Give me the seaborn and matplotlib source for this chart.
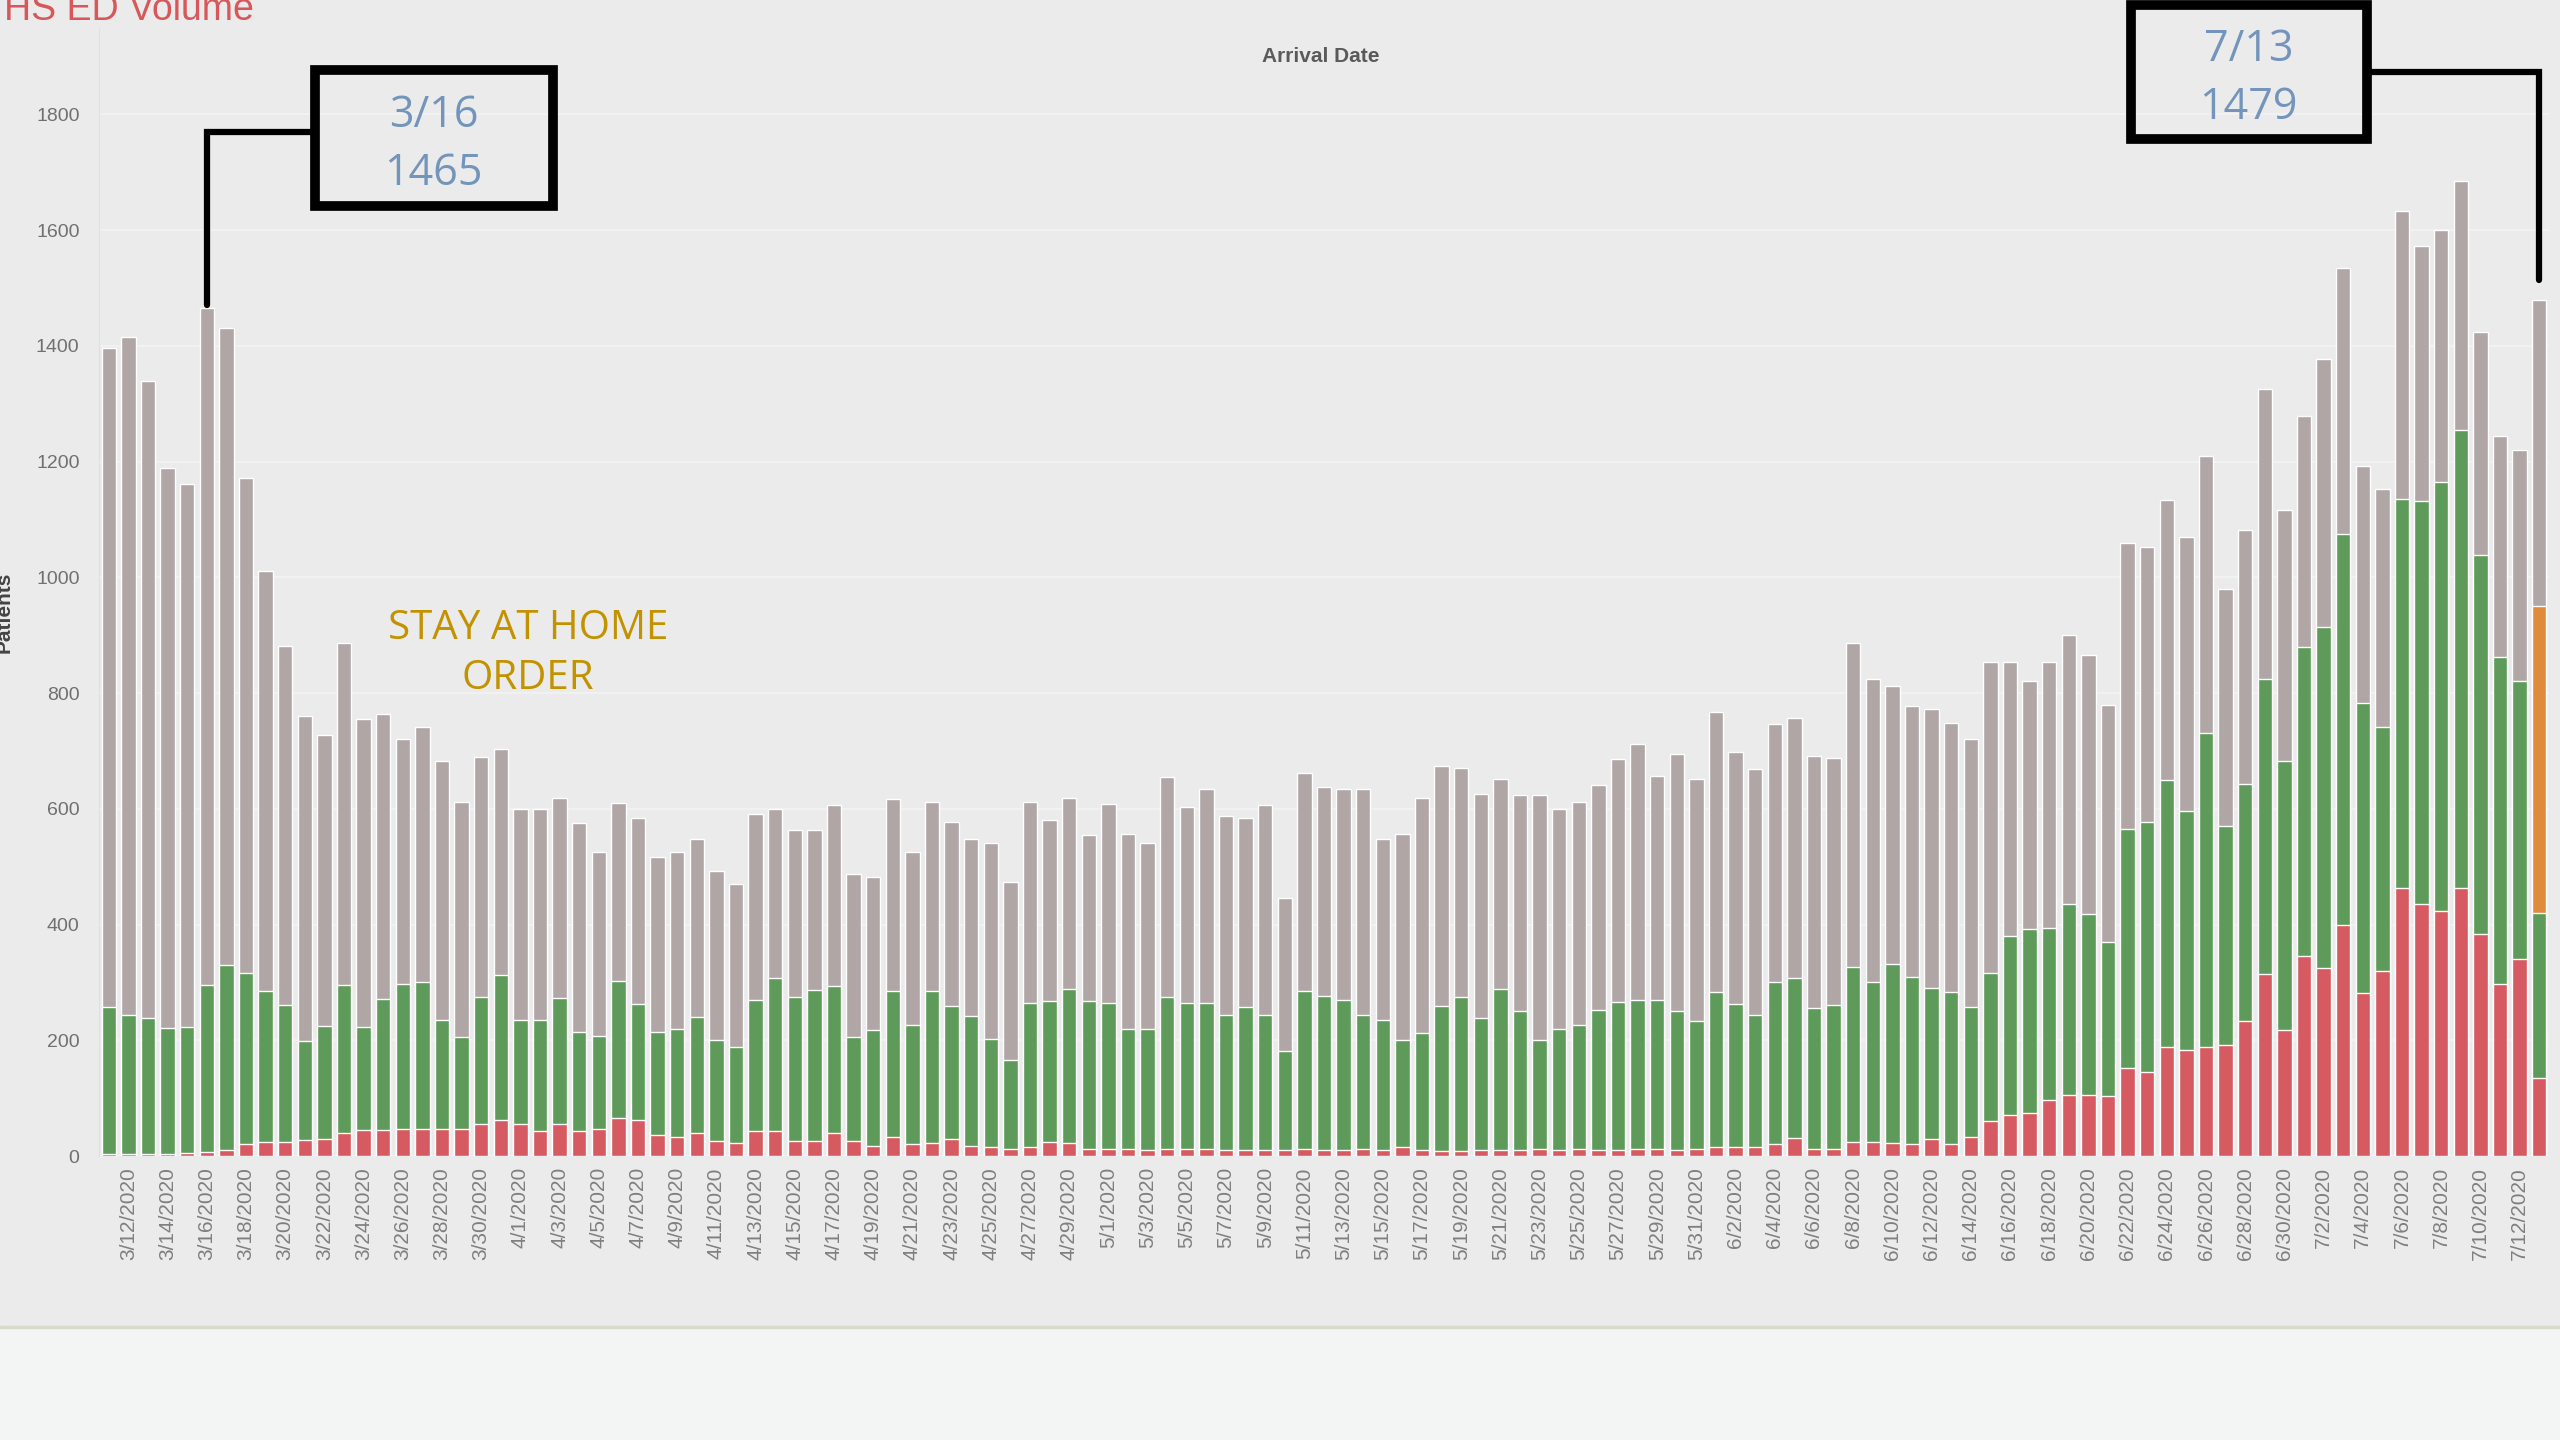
import pandas as pd
import matplotlib.pyplot as plt
import seaborn as sns
from matplotlib.patches import Rectangle

# style
sns.set_style("white")
plt.rcParams['font.family'] = ['Liberation Sans', 'DejaVu Sans']

# data (daily arrivals, 3/11/2020 - 7/13/2020)
days = pd.date_range("2020-03-11", "2020-07-13", freq="D")
dates = [f"{d.month}/{d.day}/{d.year}" for d in days]

# total height of each bar
total_volume = [
    1397, 1415, 1340, 1189, 1162, 1465, 1430, 1172, 1011, 881,
    760, 727, 887, 755, 763, 720, 742, 682, 611, 690,
    703, 600, 600, 618, 576, 525, 610, 584, 516, 525,
    548, 492, 470, 591, 599, 564, 564, 607, 488, 482,
    617, 526, 612, 578, 548, 541, 474, 612, 580, 618,
    555, 609, 557, 541, 655, 603, 634, 588, 584, 607,
    445, 662, 637, 635, 634, 548, 556, 618, 674, 671,
    626, 651, 624, 624, 600, 612, 641, 686, 712, 657,
    695, 651, 767, 698, 669, 747, 757, 692, 687, 886,
    825, 813, 778, 773, 749, 721, 854, 853, 820, 853,
    900, 865, 780, 1059, 1053, 1133, 1070, 1209, 980, 1082,
    1325, 1117, 1279, 1378, 1535, 1192, 1152, 1633, 1573, 1600,
    1685, 1424, 1245, 1220, 1479,
]

# top of the green segment (red + green)
green_level = [
    258, 243, 238, 221, 223, 295, 330, 316, 286, 261,
    199, 225, 295, 223, 271, 298, 301, 235, 206, 275,
    313, 235, 235, 273, 214, 208, 303, 263, 214, 220,
    241, 200, 189, 270, 307, 274, 287, 293, 206, 217,
    286, 227, 286, 259, 242, 202, 166, 265, 268, 289,
    268, 264, 219, 220, 274, 264, 264, 243, 257, 243,
    182, 286, 276, 270, 243, 235, 201, 212, 260, 274,
    239, 289, 250, 201, 220, 227, 253, 266, 270, 270,
    250, 234, 283, 262, 243, 300, 307, 255, 261, 326,
    300, 331, 309, 291, 283, 258, 317, 381, 392, 394,
    435, 418, 369, 565, 577, 649, 597, 731, 571, 642,
    825, 682, 879, 914, 1074, 782, 742, 1136, 1131, 1165,
    1254, 1039, 862, 820, 420,
]

# red segment
red_level = [
    3, 3, 3, 3, 5, 7, 10, 20, 25, 25,
    27, 30, 40, 45, 45, 47, 47, 47, 47, 55,
    62, 56, 43, 56, 43, 46, 66, 62, 36, 33,
    39, 26, 23, 43, 43, 26, 26, 39, 26, 18,
    33, 20, 22, 30, 18, 15, 12, 15, 25, 22,
    12, 12, 12, 10, 12, 12, 12, 10, 10, 10,
    10, 12, 10, 10, 12, 10, 16, 10, 8, 8,
    10, 10, 10, 12, 10, 12, 10, 10, 12, 12,
    10, 12, 16, 16, 16, 21, 32, 12, 12, 25,
    25, 23, 21, 30, 21, 33, 60, 71, 75, 96,
    105, 105, 104, 152, 145, 188, 183, 188, 192, 234,
    314, 217, 345, 325, 400, 282, 320, 463, 436, 423,
    463, 383, 297, 340, 134,
]

# the last (partial) day has an orange segment on top of green
orange_dates = ["7/13/2020"]
orange_level = [950]

# callouts
callout_dates = ["3/16/2020", "7/13/2020"]
callout_texts = ["3/16\n1465", "7/13\n1479"]

GRAY = "#b0a6a6"
GREEN = "#5e9a59"
RED = "#d65a61"
ORANGE = "#e08a3e"
BG = "#ebebeb"

fig = plt.figure(figsize=(25.6, 14.4), dpi=100, facecolor=BG)

# lower blank band of the dashboard
fig.add_artist(Rectangle((0, 0), 1, 1 - 1327 / 1440, transform=fig.transFigure,
                         facecolor="#f3f4f4", edgecolor="none", zorder=0))
fig.add_artist(plt.Line2D([0, 1], [1 - 1327 / 1440] * 2, transform=fig.transFigure,
                          color="#d6dcc9", lw=2.5))

ax = fig.add_axes([99 / 2560, 0.1972, 2450 / 2560, 0.7837])
ax.set_facecolor(BG)

sns.barplot(x=dates, y=total_volume, order=dates, color=GRAY, width=0.74,
            saturation=1, errorbar=None, ax=ax, zorder=2)
sns.barplot(x=orange_dates, y=orange_level, order=dates, color=ORANGE, width=0.74,
            saturation=1, errorbar=None, ax=ax, zorder=3)
sns.barplot(x=dates, y=green_level, order=dates, color=GREEN, width=0.74,
            saturation=1, errorbar=None, ax=ax, zorder=4)
sns.barplot(x=dates, y=red_level, order=dates, color=RED, width=0.74,
            saturation=1, errorbar=None, ax=ax, zorder=5)

ax.set_xlim(-0.5, len(dates) - 0.5)
ax.set_ylim(0, 1950)
ax.set_yticks(range(0, 1801, 200))
ax.set_yticklabels([str(v) for v in range(0, 1801, 200)], fontsize=14, color="#707070")
ax.set_xticks(range(len(dates)))
ax.set_xticklabels([d if i % 2 == 1 else "" for i, d in enumerate(dates)],
                   rotation=90, fontsize=15, color="#7f7f7f")
ax.tick_params(axis="both", length=0)
ax.tick_params(axis="x", pad=8)
ax.tick_params(axis="y", pad=14)
ax.yaxis.grid(True, color="#f3f3f3", lw=1.2, zorder=0)
ax.set_axisbelow(True)
ax.set_xlabel("")
ax.set_ylabel("")
for side in ["top", "right", "bottom"]:
    ax.spines[side].set_visible(False)
ax.spines["left"].set_color("#e0e0e0")

# texts (title and axis title sit at the edge, as on the dashboard)
fig.text(0.0016, 1 - 20 / 1440, "HS ED Volume", fontsize=27, color="#d8575a",
         va="baseline", ha="left")
fig.text(1321 / 2560, 1 - 57 / 1440, "Arrival Date", fontsize=15, fontweight="bold",
         color="#5a5a5a", ha="center", va="center")
fig.text(0.0015, 1 - 612 / 1440, "Patients", fontsize=15, fontweight="bold",
         color="#444444", rotation=90, ha="center", va="center")

ax.text(21.4, 868, "STAY AT HOME\nORDER", fontsize=29, color="#c39200",
        ha="center", va="center", family=["Open Sans", "DejaVu Sans"], linespacing=1.3)

# callout boxes with elbow connectors
boxes = [
    # box x0, x1, y0, y1, elbow height
    (10.5, 22.65, 1642, 1877, 1770),
    (103.15, 115.2, 1757, 1989, 1873),
]
for date, txt, (x0, x1, y0, y1, yel) in zip(callout_dates, callout_texts, boxes):
    idx = dates.index(date)
    top = total_volume[idx]
    ax.add_patch(Rectangle((x0, y0), x1 - x0, y1 - y0, fill=False, edgecolor="black",
                           lw=7, clip_on=False, zorder=10, joinstyle="miter"))
    edge = x0 if idx < x0 else x1
    end = top + 5 if idx < x0 else top + 35
    ax.plot([edge, idx, idx], [yel, yel, end], color="black", lw=4.5,
            clip_on=False, zorder=10, solid_joinstyle="miter")
    ax.text((x0 + x1) / 2, (y0 + y1) / 2 - 12, txt, fontsize=31, color="#7394bb",
            ha="center", va="center", linespacing=1.4,
            family=["Open Sans", "DejaVu Sans"], zorder=11, clip_on=False)

plt.savefig("out.png", dpi=100, facecolor=fig.get_facecolor())
